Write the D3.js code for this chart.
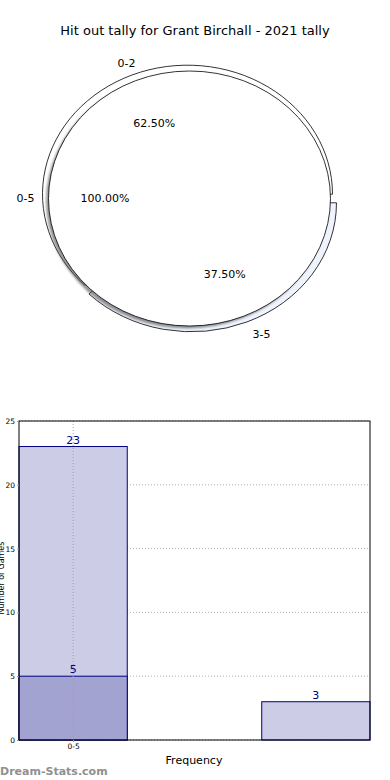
<!DOCTYPE html>
<html>
<head>
<meta charset="utf-8">
<script src="https://cdn.jsdelivr.net/npm/d3@7"></script>
<style>
  body { margin: 0; background: #fff; }
  text { font-family: "DejaVu Sans", sans-serif; }
</style>
</head>
<body>
<div id="plot"></div>
<script>
// pie data: outer ring (split) and inner pie (whole)
var outerLabels = ["0-2", "3-5"];
var outerValues = [5, 3];
var outerColors = ["#ffffff", "#eef3fd"];
var innerLabels = ["0-5"];
var innerValues = [8];

// bar data
var barPositions = [0, 0, 1];
var barValues = [23, 5, 3];
var barColors = ["#ccccE6", "#a3a3d1", "#ccccE6"];
var xTickLabels = ["0-5"];
var yTicks = [0, 5, 10, 15, 20, 25];

var W = 390, H = 780;
var svg = d3.select("#plot").append("svg")
  .attr("width", W).attr("height", H);

svg.append("text")
  .attr("x", 195).attr("y", 35)
  .attr("text-anchor", "middle")
  .style("font-size", "13px")
  .text("Hit out tally for Grant Birchall - 2021 tally");

// ---- pie ----
var cx = 189.5, cy = 198.5;
var outerR = {x: 145, y: 129}, innerR = {x: 141, y: 127.5};
var explode = 0.036;

// matplotlib style: start at 3 o'clock, counter clockwise
var pie = d3.pie().sort(null)
  .startAngle(Math.PI / 2)
  .endAngle(Math.PI / 2 - 2 * Math.PI);
var arc = d3.arc().innerRadius(0).outerRadius(1);

function midDir(d) {
  var a = (d.startAngle + d.endAngle) / 2;
  return [Math.sin(a), -Math.cos(a)];
}

var outerG = svg.append("g");
var outerArcs = pie(outerValues);
outerG.selectAll("path")
  .data(outerArcs)
  .enter().append("path")
  .attr("d", arc)
  .attr("transform", function(d) {
    var m = midDir(d);
    return "translate(" + (cx + m[0] * explode * outerR.x) + "," + (cy + m[1] * explode * outerR.y) +
      ") scale(" + outerR.x + "," + outerR.y + ")";
  })
  .attr("fill", function(d, i) { return outerColors[i]; })
  .attr("stroke", "#000")
  .attr("stroke-width", 0.8)
  .attr("vector-effect", "non-scaling-stroke");

// inner pie with shadow
var innerArcs = pie(innerValues);
var shadowG = svg.append("g").style("filter", "blur(0.8px)");
shadowG.selectAll("path")
  .data(innerArcs)
  .enter().append("path")
  .attr("d", arc)
  .attr("transform", "translate(" + (cx - 2.5) + "," + (cy + 2.5) + ") scale(" + innerR.x + "," + innerR.y + ")")
  .attr("fill", "#4d4d4d")
  .attr("opacity", 0.6);
var innerG = svg.append("g");
innerG.selectAll("path")
  .data(innerArcs)
  .enter().append("path")
  .attr("d", arc)
  .attr("transform", "translate(" + cx + "," + cy + ") scale(" + innerR.x + "," + innerR.y + ")")
  .attr("fill", "#fff")
  .attr("stroke", "#000")
  .attr("stroke-width", 0.8)
  .attr("vector-effect", "non-scaling-stroke");

function pieText(arcs, labels, r, ex) {
  var total = d3.sum(arcs, function(d) { return d.value; });
  arcs.forEach(function(d, i) {
    var m = midDir(d);
    var lx = cx + m[0] * (1.1 + ex) * r.x, ly = cy + m[1] * (1.1 + ex) * r.y;
    svg.append("text")
      .attr("x", lx).attr("y", ly).attr("dy", "0.35em")
      .attr("text-anchor", m[0] > 0.01 ? "start" : (m[0] < -0.5 ? "end" : "middle"))
      .style("font-size", "11px")
      .text(labels[i]);
    var px = cx + m[0] * (0.6 + ex) * r.x, py = cy + m[1] * (0.6 + ex) * r.y;
    svg.append("text")
      .attr("x", px).attr("y", py).attr("dy", "0.35em")
      .attr("text-anchor", "middle")
      .style("font-size", "11px")
      .text((d.value / total * 100).toFixed(2) + "%");
  });
}
pieText(outerArcs, outerLabels, outerR, explode);
pieText(innerArcs, innerLabels, innerR, 0);

// ---- bars ----
var plotLeft = 19, plotRight = 370, plotTop = 421, plotBottom = 740;
var halfW = 0.223;
var x = d3.scaleLinear().domain([-halfW, 1 + halfW]).range([plotLeft, plotRight]);
var y = d3.scaleLinear().domain([0, 25]).range([plotBottom, plotTop]);

var bars = svg.append("g");
// grid
bars.selectAll("line.hgrid")
  .data(yTicks)
  .enter().append("line")
  .attr("class", "hgrid")
  .attr("x1", plotLeft).attr("x2", plotRight)
  .attr("y1", function(d) { return y(d); })
  .attr("y2", function(d) { return y(d); })
  .attr("stroke", "#b0b0b0")
  .attr("stroke-dasharray", "1,2");

bars.selectAll("rect")
  .data(barValues)
  .enter().append("rect")
  .attr("x", function(d, i) { return x(barPositions[i] - halfW); })
  .attr("width", x(halfW) - x(-halfW))
  .attr("y", function(d) { return y(d); })
  .attr("height", function(d) { return y(0) - y(d); })
  .attr("fill", function(d, i) { return barColors[i]; })
  .attr("stroke", "#000080")
  .attr("stroke-width", 1);

bars.selectAll("line.vgrid")
  .data([0])
  .enter().append("line")
  .attr("class", "vgrid")
  .attr("x1", function(d) { return x(d); })
  .attr("x2", function(d) { return x(d); })
  .attr("y1", plotTop).attr("y2", plotBottom)
  .attr("stroke", "#a0a0a0")
  .attr("stroke-dasharray", "1,2");

bars.selectAll("text.val")
  .data(barValues)
  .enter().append("text")
  .attr("class", "val")
  .attr("x", function(d, i) { return x(barPositions[i]); })
  .attr("y", function(d) { return y(d) - 3; })
  .attr("text-anchor", "middle")
  .attr("fill", "#000080")
  .style("font-size", "11px")
  .text(function(d) { return d; });

// frame
bars.append("rect")
  .attr("x", plotLeft).attr("y", plotTop)
  .attr("width", plotRight - plotLeft).attr("height", plotBottom - plotTop)
  .attr("fill", "none").attr("stroke", "#000").attr("stroke-width", 1);

var yAxis = d3.axisLeft(y).tickValues(yTicks).tickSize(2).tickPadding(2);
svg.append("g")
  .attr("transform", "translate(" + plotLeft + ",0)")
  .call(yAxis)
  .call(function(g) {
    g.select(".domain").remove();
    g.selectAll(".tick line").attr("stroke", "#999");
    g.selectAll("text").style("font-size", "7.5px").style("font-family", "DejaVu Sans, sans-serif");
  });

var xAxis = d3.axisBottom(x).tickValues([0]).tickFormat(function(d, i) { return xTickLabels[i]; })
  .tickSize(2).tickPadding(2);
svg.append("g")
  .attr("transform", "translate(0," + plotBottom + ")")
  .call(xAxis)
  .call(function(g) {
    g.select(".domain").remove();
    g.selectAll(".tick line").attr("stroke", "#999");
    g.selectAll("text").style("font-size", "7.5px").style("font-family", "DejaVu Sans, sans-serif");
  });

svg.append("text")
  .attr("x", 194).attr("y", 764)
  .attr("text-anchor", "middle")
  .style("font-size", "11px")
  .text("Frequency");

svg.append("text")
  .attr("transform", "translate(4,578) rotate(-90)")
  .attr("text-anchor", "middle")
  .style("font-size", "8px")
  .text("Number of Games");

svg.append("text")
  .attr("x", 0).attr("y", 775)
  .attr("fill", "#909090")
  .style("font-size", "11px")
  .style("font-weight", "bold")
  .text("Dream-Stats.com");
</script>
</body>
</html>
